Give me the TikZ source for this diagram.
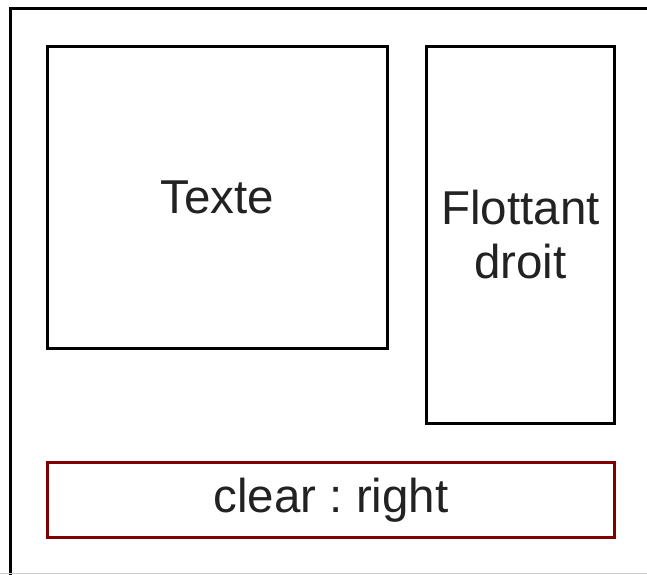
\documentclass[tikz,border=0pt]{standalone}
\usepackage{fontspec}
\setmainfont{Liberation Sans}
\frenchspacing
\definecolor{clearred}{HTML}{800000}
\definecolor{txt}{HTML}{222222}
\begin{document}
\begin{tikzpicture}[x=1pt,y=-1pt,
  box/.style={draw=black,line width=3.2pt,inner sep=0pt,align=center,text=txt,
    font=\fontsize{47.5}{54}\selectfont},
  clearbox/.style={box,draw=clearred}]
\useasboundingbox (0,0) rectangle (647,574);
\begin{scope}
\clip (0,0) rectangle (647,574);
\fill[white] (0,0) rectangle (647,574);
\draw[line width=3.2pt] (10.5,590) -- (10.5,8.5) -- (670,8.5);
\draw[line width=1pt,draw=black!20] (0,573.5) -- (647,573.5);
\end{scope}
\node[box,minimum width=340pt,minimum height=302pt] (texte) at (217.5,197.5) {Texte};
\node[box,minimum width=188pt,minimum height=377pt] (flottant) at (520.5,235) {Flottant\\droit};
\node[clearbox,minimum width=567pt,minimum height=75pt] (clear) at (331,500) {clear : right};
\end{tikzpicture}
\end{document}
